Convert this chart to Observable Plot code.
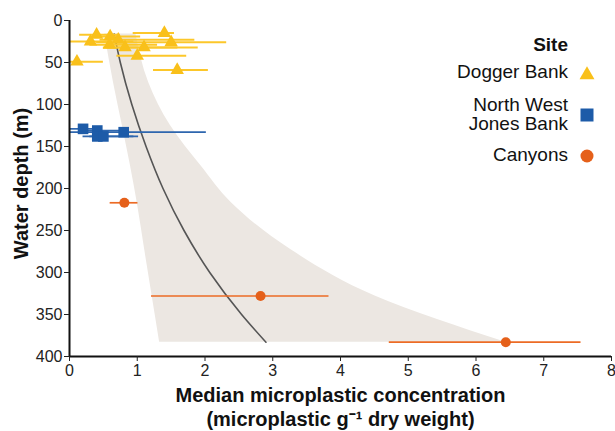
<!DOCTYPE html>
<html><head><meta charset="utf-8">
<script src="https://cdn.jsdelivr.net/npm/d3@7"></script>
<script src="https://cdn.jsdelivr.net/npm/@observablehq/plot@0.6"></script>
<style>
body{margin:0;background:#fff;}
#wrap{position:relative;width:615px;height:431px;font-family:"Liberation Sans",Arial,sans-serif;}
.lg{position:absolute;white-space:nowrap;color:#111;font-size:19px;line-height:22px;text-align:right;}
#lgsym{position:absolute;left:0;top:0;pointer-events:none;}
</style></head><body><div id="wrap"></div>
<script>
// ---- data ----
const sites = ["Dogger Bank", "North West Jones Bank", "Canyons"];
const legendLines = [["Dogger Bank"], ["North West", "Jones Bank"], ["Canyons"]];
const xTicks = [0, 1, 2, 3, 4, 5, 6, 7, 8];
const yTicks = [0, 50, 100, 150, 200, 250, 300, 350, 400];

// Dogger Bank
const dbConc  = [0.40, 0.31, 0.60, 0.59, 0.72, 0.82, 1.10, 1.00, 1.40, 1.50, 0.11, 1.59];
const dbDepth = [17,   25,   19,   29,   23,   32,   32,   42,   15,   26,   49,   59];
const dbLo    = [0.15, 0.00, 0.35, 0.30, 0.45, 0.50, 0.55, 0.70, 0.94, 0.40, 0.00, 1.24];
const dbHi    = [0.75, 0.95, 1.05, 1.30, 1.85, 1.60, 1.90, 1.73, 1.55, 2.32, 0.50, 2.05];
// North West Jones Bank
const nwConc  = [0.20, 0.41, 0.41, 0.50, 0.80];
const nwDepth = [129,  131,  138,  138,  133];
const nwLo    = [0.00, 0.25, 0.20, 0.30, 0.00];
const nwHi    = [0.45, 0.85, 0.95, 1.02, 2.02];
// Canyons
const cConc   = [0.81, 2.82, 6.44];
const cDepth  = [217,  328,  383];
const cLo     = [0.60, 1.21, 4.72];
const cHi     = [1.01, 3.83, 7.55];
// confidence band
const bandDepth = [16,   74,   125,  173,  217,  273,  328,  383];
const bandLo    = [0.52, 0.65, 0.78, 0.90, 1.00, 1.11, 1.22, 1.33];
const bandHi    = [0.98, 1.17, 1.49, 1.94, 2.39, 3.27, 4.51, 6.44];
// fitted curve
const fitDepth = [16,   50,   100,  150,  200,  250,  300,  350,  383];
const fitConc  = [0.66, 0.75, 0.92, 1.13, 1.38, 1.69, 2.07, 2.54, 2.90];

// ---- styling ----
const siteColors = ["#F9C01A", "#1D5BA8", "#E5601A"];
const barColors  = ["#FCC72A", "#2E66AE", "#EC6B25"];
const siteSymbols = ["triangle", "square", "circle"];
const siteR = [5, 6, 5];

const mk = (conc, depth, lo, hi, s) => conc.map((c, i) => ({site: sites[s], conc: c, depth: depth[i], lo: lo[i], hi: hi[i]}));
const groups = [mk(dbConc, dbDepth, dbLo, dbHi, 0), mk(nwConc, nwDepth, nwLo, nwHi, 1), mk(cConc, cDepth, cLo, cHi, 2)];
const band = bandDepth.map((d, i) => ({depth: d, lo: bandLo[i], hi: bandHi[i]}));
const fit = fitDepth.map((d, i) => ({depth: d, conc: fitConc[i]}));

const font = '"Liberation Sans", Arial, sans-serif';
const chart = Plot.plot({
  width: 615, height: 431,
  marginLeft: 69, marginRight: 4, marginTop: 20, marginBottom: 75,
  style: {fontFamily: font, background: "#fff", overflow: "visible"},
  x: {domain: [0, 8]},
  y: {domain: [0, 400], reverse: true},
  marks: [
    Plot.areaX(band, {y: "depth", x1: "lo", x2: "hi", fill: "#ECE7E2", curve: "monotone-y"}),
    Plot.lineX(fit, {x: "conc", y: "depth", stroke: "#555", strokeWidth: 1.6, curve: "monotone-y"}),
    ...groups.map((g, s) => Plot.ruleY(g, {y: "depth", x1: "lo", x2: "hi", stroke: barColors[s], strokeWidth: s === 0 ? 2 : 1.7})),
    ...groups.map((g, s) => Plot.dot(g, {x: "conc", y: "depth", symbol: siteSymbols[s], r: siteR[s], fill: siteColors[s], stroke: "none"})),
    Plot.ruleX([0], {stroke: "#111", strokeWidth: 2}),
    Plot.ruleY([400], {stroke: "#111", strokeWidth: 2}),
    Plot.axisX({ticks: xTicks, tickSize: 5, tickPadding: 3, fontSize: 16, label: null, color: "#222", tickFormat: d => String(d)}),
    Plot.axisY({ticks: yTicks, tickSize: 5, tickPadding: 2, fontSize: 16, label: null, color: "#222", tickFormat: d => String(d)}),
    Plot.text(["Median microplastic concentration\n(microplastic g\u207B\u00B9 dry weight)"], {frameAnchor: "bottom", dy: 50, textAnchor: "middle", lineAnchor: "middle", lineHeight: 1.18, fontSize: 20, fontWeight: "bold", fill: "#111"}),
    Plot.text(["Water depth (m)"], {frameAnchor: "left", dx: -48, dy: -5, rotate: -90, textAnchor: "middle", fontSize: 20, fontWeight: "bold", fill: "#111"})
  ]
});
const wrap = document.getElementById("wrap");
wrap.appendChild(chart);

// ---- legend (HTML overlay) ----
function addText(txt, top, bold) {
  const d = document.createElement("div");
  d.className = "lg";
  d.style.right = "47px";
  d.style.top = top + "px";
  if (bold) d.style.fontWeight = "bold";
  d.textContent = txt;
  wrap.appendChild(d);
}
addText("Site", 34, true);
const rowTops = [[61], [94, 113], [144]];
legendLines.forEach((lines, s) => lines.forEach((t, j) => addText(t, rowTops[s][j], false)));

const sym = d3.select(wrap).append("svg").attr("id", "lgsym").attr("width", 615).attr("height", 431);
const symTypes = [d3.symbolTriangle, d3.symbolSquare, d3.symbolCircle];
const symSizes = [97, 169, 133];
const symY = [75, 115, 156];
sites.forEach((s, i) => {
  sym.append("path")
    .attr("d", d3.symbol().type(symTypes[i]).size(symSizes[i])())
    .attr("transform", `translate(587,${symY[i]})`)
    .attr("fill", siteColors[i]);
});
</script></body></html>
